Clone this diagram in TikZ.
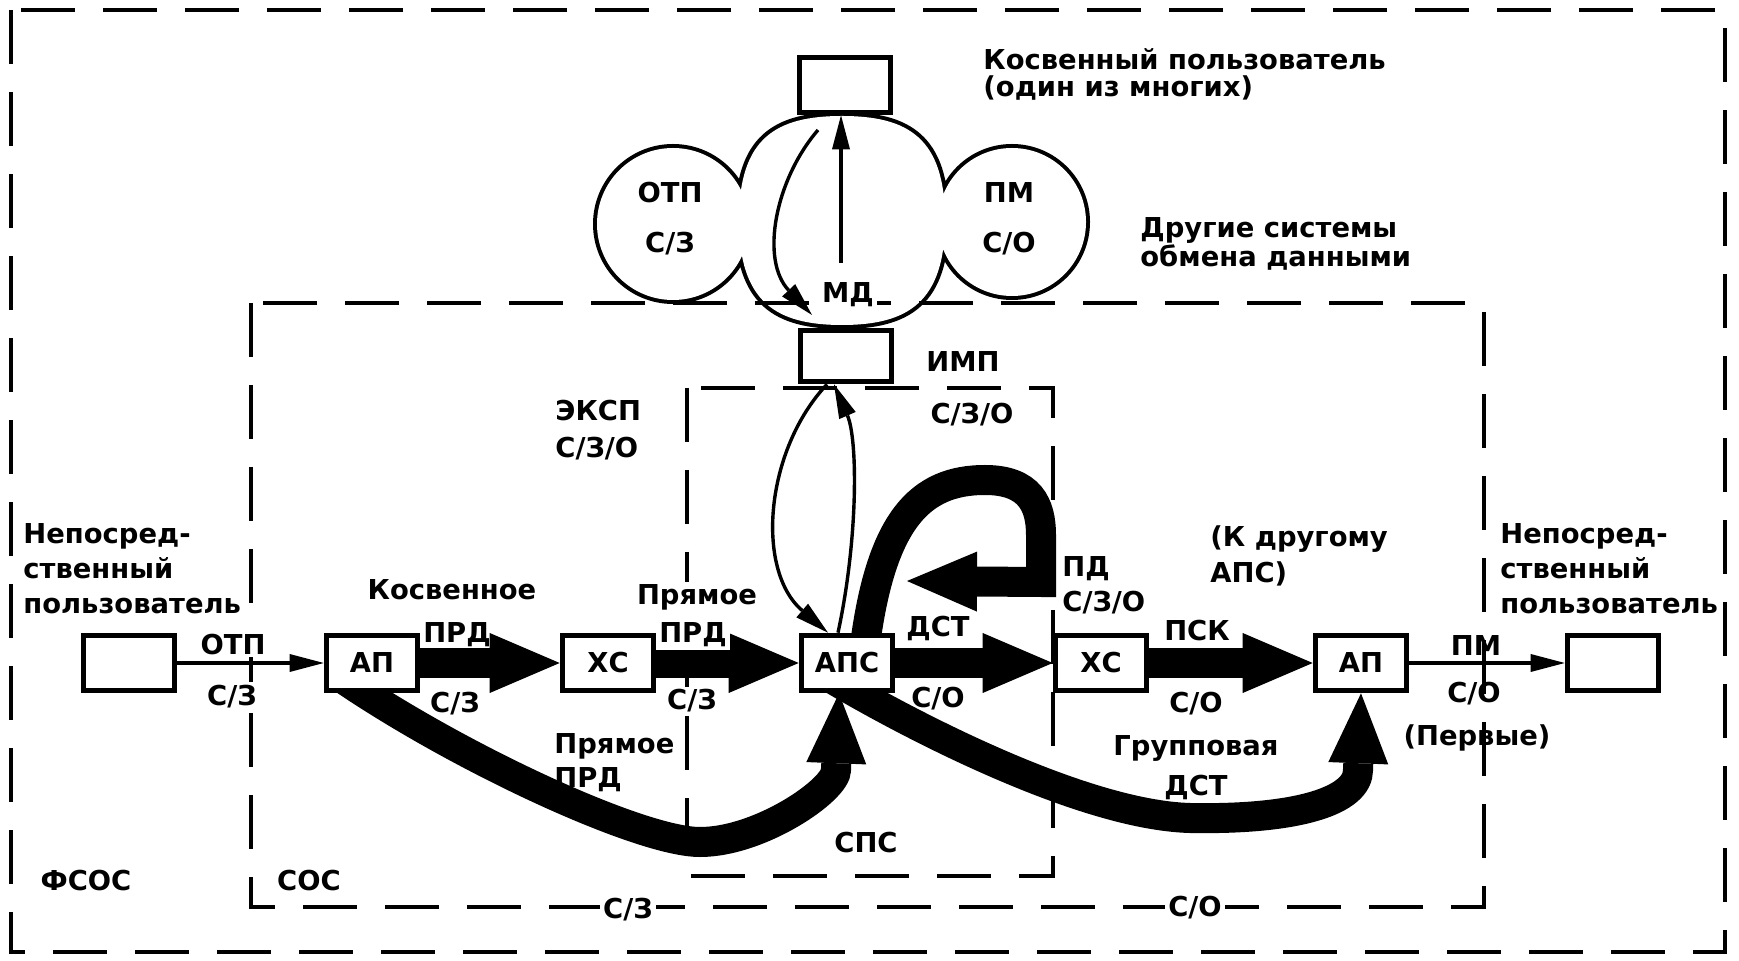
\documentclass[tikz,border=0pt]{standalone}
\usepackage{fontspec}
\setmainfont{DejaVu Sans}
\usetikzlibrary{arrows.meta}
\pgfdeclarelayer{bg}
\pgfsetlayers{bg,main}

\begin{document}
\begin{tikzpicture}[x=0.5pt, y=-0.5pt,
    font=\fontsize{13.7}{17.5}\selectfont\bfseries,
    box/.style={draw, line width=2.8pt, fill=white, inner sep=0pt,
      minimum width=45.5pt, minimum height=27.5pt},
    frame/.style={line width=2pt, dash pattern=on 27pt off 14pt},
    fat/.style={line width=15pt,
      -{Triangle[length=35pt, width=30pt, line width=0pt]}},
    thin/.style={line width=1.7pt,
      -{Triangle[length=17pt, width=9pt, line width=0pt]}},
    lbl/.style={inner sep=0pt, anchor=base},
    blank/.style={lbl, fill=white, inner sep=1.5pt},
    lines/.style={inner sep=0pt, align=left, anchor=north west,
      font=\fontsize{13.7}{#1}\selectfont\bfseries}]
        \useasboundingbox (0,0) rectangle (1739,961);
        % boxes
        \node[box] (topuser) at (845,85) {};
        \node[box, minimum height=25.5pt] (imp) at (846,356) {};
        \node[box] (leftuser) at (129,663) {};
        \node[box] (ap1) at (372,663) {АП};
        \node[box] (xs1) at (608,663) {ХС};
        \node[box] (aps) at (847,663) {АПС};
        \node[box] (xs2) at (1101,663) {ХС};
        \node[box] (ap2) at (1361,663) {АП};
        \node[box] (rightuser) at (1613,663) {};
        \coordinate (mdfoot) at (841,263);
        \coordinate (cloudtop) at (818,130);
        \coordinate (mdtip) at (812,315);
        \coordinate (looptip) at (907,581);
        \begin{pgfonlayer}{bg}
        % cloud
        \path[draw, line width=4pt, postaction={fill=white}]
          (673,224) circle[radius=38pt] (1012,222) circle[radius=37pt]
          (739,220) .. controls (739,302) and (776,325) .. (842,325)
          .. controls (908,325) and (945,302) .. (945,220)
          .. controls (945,138) and (908,116) .. (842,116)
          .. controls (776,116) and (739,138) .. (739,220) -- cycle;
        \draw[thin] (mdfoot) -- (mdfoot |- topuser.south);
        \draw[thin] (cloudtop) .. controls (775,180) and (760,260) .. (mdtip);
        % frames
        \draw[frame] (11,10) rectangle (1725,952);
        \draw[frame] (251,303) rectangle (1484,907);
        \draw[frame] (687,388) rectangle (1053,876);
        % thin arrows
        \draw[thin] (leftuser.east) -- (ap1.west);
        \draw[thin] (ap2.east) -- (rightuser.west);
        \draw[thin] ([xshift=-9.5pt]imp.south) .. controls (765,450) and (755,570)
          .. ([xshift=-9.5pt]aps.north);
        \draw[thin] ([xshift=-4.5pt]aps.north) .. controls (858,540) and (858,440)
          .. ([xshift=-6pt]imp.south);
        % fat arrows
        \draw[fat] (ap1.east) -- (xs1.west);
        \draw[fat] (xs1.east) -- (aps.west);
        \draw[fat] (aps.east) -- (xs2.west);
        \draw[fat] (xs2.east) -- (ap2.west);
        \draw[fat] ([xshift=-18.5pt,yshift=10pt]ap1.south)
          .. controls (456,757) and (640,842) .. (700,842)
          .. controls (760,842) and (836,790) .. (836,770)
          -- ([xshift=-4pt]aps.south);
        \draw[fat] ([xshift=-12pt,yshift=10pt]aps.south)
          .. controls (900,720) and (1080,815) .. (1190,818)
          .. controls (1300,820) and (1358,800) .. (1358,770)
          -- (ap2.south);
        \draw[fat] ([xshift=8.5pt,yshift=-10pt]aps.north)
          .. controls (880,520) and (920,480) .. (985,480)
          .. controls (1030,480) and (1041,505) .. (1041,535)
          -- (1041,582) -- (looptip);
        \end{pgfonlayer}
        % cloud texts
        \node[lines=25pt, align=center, anchor=north] (otpsz) at (670,182) {ОТП\\С/З};
        \node[lines=25pt, align=center, anchor=north] (pmso) at (1009,182) {ПМ\\С/О};
        \node[blank] (md) at (848,303) {МД};
        \node[lines=13.5pt] (induser) at (983,48) {Косвенный пользователь\\(один из многих)};
        \node[lines=13pt] (others) at (1140,217) {Другие системы\\обмена данными};
        \node[lbl] (imptext) at (963,372) {ИМП};
        \node[lbl] (spstop) at (972,424) {С/З/О};
        \node[lines=18.5pt] (exp) at (555,400) {ЭКСП\\С/З/О};
        % left side
        \node[lines=17.5pt] (diruser1) at (23,523) {Непосред-\\ственный\\пользователь};
        \node[blank] (otp1) at (233,654) {ОТП};
        \node[blank] (sz1) at (232,705) {С/З};
        \node[lbl] (kosv) at (452,600) {Косвенное};
        \node[lbl] (prd1) at (457,643) {ПРД};
        \node[lbl] (sz2) at (455,712) {С/З};
        \node[blank] (pryam1) at (697,605) {Прямое};
        \node[blank] (prd2) at (693,643) {ПРД};
        \node[blank] (sz3) at (692,710) {С/З};
        \node[lines=17pt] (pryam2) at (554,733) {Прямое\\ПРД};
        % right side
        \node[lbl] (dst1) at (938,637) {ДСТ};
        \node[lbl] (so1) at (938,707) {С/О};
        \node[lines=17.5pt] (pd) at (1062,556) {ПД\\С/З/О};
        \node[lines=18pt] (toaps) at (1210,525) {(К другому\\АПС)};
        \node[lbl] (psk) at (1197,640) {ПСК};
        \node[lbl] (so2) at (1196,712) {С/О};
        \node[lines=20pt, align=center, anchor=north] (group) at (1196,735) {Групповая\\ДСТ};
        \node[lbl] (pm) at (1476,655) {ПМ};
        \node[lbl] (so3) at (1474,703) {С/О};
        \node[lbl] (first) at (1477,745) {(Первые)};
        \node[lines=17.5pt] (diruser2) at (1500,523) {Непосред-\\ственный\\пользователь};
        % frame names
        \node[lbl] (sps) at (866,852) {СПС};
        \node[lbl] (fsos) at (86,890) {ФСОС};
        \node[lbl] (sos) at (309,890) {СОС};
        \node[blank] (szbot) at (628,918) {С/З};
        \node[blank] (sobot) at (1195,916) {С/О};
      \end{tikzpicture}
\end{document}
